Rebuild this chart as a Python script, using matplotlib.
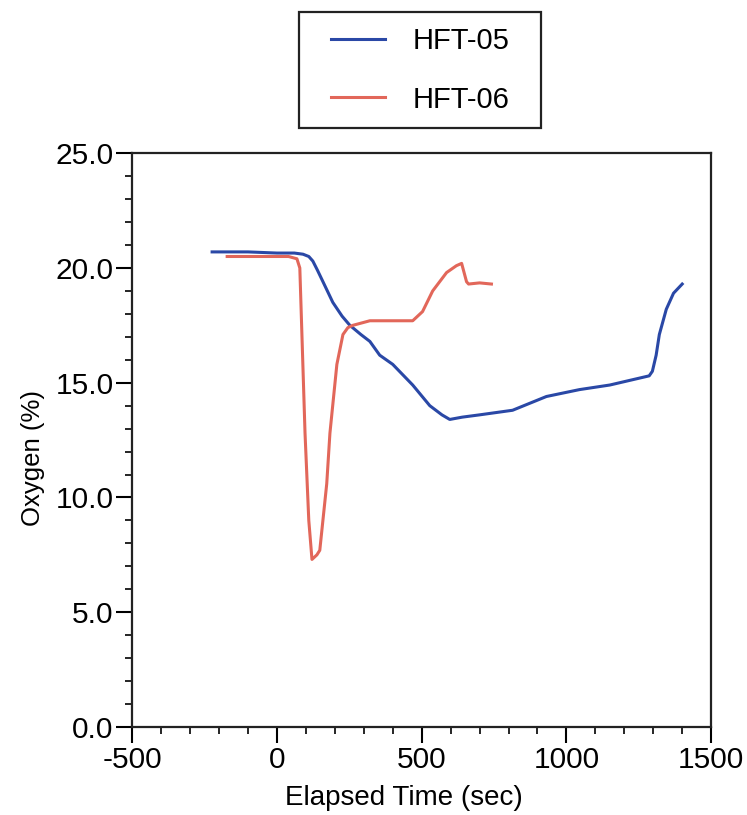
import numpy as np
import matplotlib.pyplot as plt
from matplotlib.patches import Rectangle
from matplotlib.ticker import MultipleLocator, FormatStrFormatter

plt.rcParams['font.family'] = ['Liberation Sans', 'DejaVu Sans']
plt.rcParams['axes.unicode_minus'] = False

# HFT-05 (blue)
t05 = [-224, -100, 0, 60, 90, 110, 124, 140, 159, 193, 225, 252, 290, 321, 355,
       400, 469, 528, 570, 597, 640, 700, 814, 931, 1045, 1150, 1286, 1297, 1310,
       1321, 1345, 1370, 1400]
o05 = [20.7, 20.7, 20.65, 20.65, 20.6, 20.5, 20.3, 19.9, 19.4, 18.5, 17.9, 17.5,
       17.1, 16.8, 16.2, 15.8, 14.9, 14.0, 13.6, 13.4, 13.5, 13.6, 13.8, 14.4,
       14.7, 14.9, 15.3, 15.5, 16.2, 17.1, 18.2, 18.9, 19.3]

# HFT-06 (red)
t06 = [-172, -50, 40, 69, 79, 97, 110, 121, 138, 148, 172, 183, 207, 228, 245,
       262, 321, 400, 469, 503, 538, 586, 620, 638, 655, 662, 700, 741]
o06 = [20.5, 20.5, 20.5, 20.4, 20.0, 12.8, 9.0, 7.3, 7.5, 7.7, 10.6, 12.8, 15.8,
       17.1, 17.4, 17.5, 17.7, 17.7, 17.7, 18.1, 19.0, 19.8, 20.1, 20.2, 19.4,
       19.3, 19.35, 19.3]

W, H = 747, 815
fig = plt.figure(figsize=(W / 100, H / 100), dpi=100)
ax = fig.add_axes([0.177, 0.108, 0.775, 0.704])

l1, = ax.plot(t05, o05, color='#2a48a6', lw=2.2, label='HFT-05')
l2, = ax.plot(t06, o06, color='#e2675a', lw=2.2, label='HFT-06')

ax.set_xlim(-500, 1500)
ax.set_ylim(0, 25)
ax.xaxis.set_major_locator(MultipleLocator(500))
ax.xaxis.set_minor_locator(MultipleLocator(100))
ax.yaxis.set_major_locator(MultipleLocator(5))
ax.yaxis.set_minor_locator(MultipleLocator(1))
ax.yaxis.set_major_formatter(FormatStrFormatter('%.1f'))
ax.tick_params(which='major', direction='out', length=11.5, width=1.5, labelsize=21.5, pad=2)
ax.tick_params(which='minor', direction='out', length=5, width=1.2)
for s in ax.spines.values():
    s.set_linewidth(1.6)
    s.set_color('#222222')

ax.set_xlabel('Elapsed Time (sec)', fontsize=20)
ax.set_ylabel('Oxygen (%)', fontsize=18.5)
ax.xaxis.set_label_coords(0.47, -0.101)
ax.yaxis.set_label_coords(-0.150, 0.469)

# legend without its own frame, box drawn separately
leg = fig.legend(handles=[l1, l2], loc='upper center', bbox_to_anchor=(0.562, 0.967),
                 fontsize=21, frameon=False, handlelength=1.85, handletextpad=0.95,
                 labelspacing=1.05, borderpad=0, borderaxespad=0)
fig.add_artist(Rectangle((299 / W, 1 - 128 / H), 242 / W, 116 / H,
                         transform=fig.transFigure, fill=False, lw=1.6, ec='#222222'))

fig.savefig('out.png', dpi=100)
